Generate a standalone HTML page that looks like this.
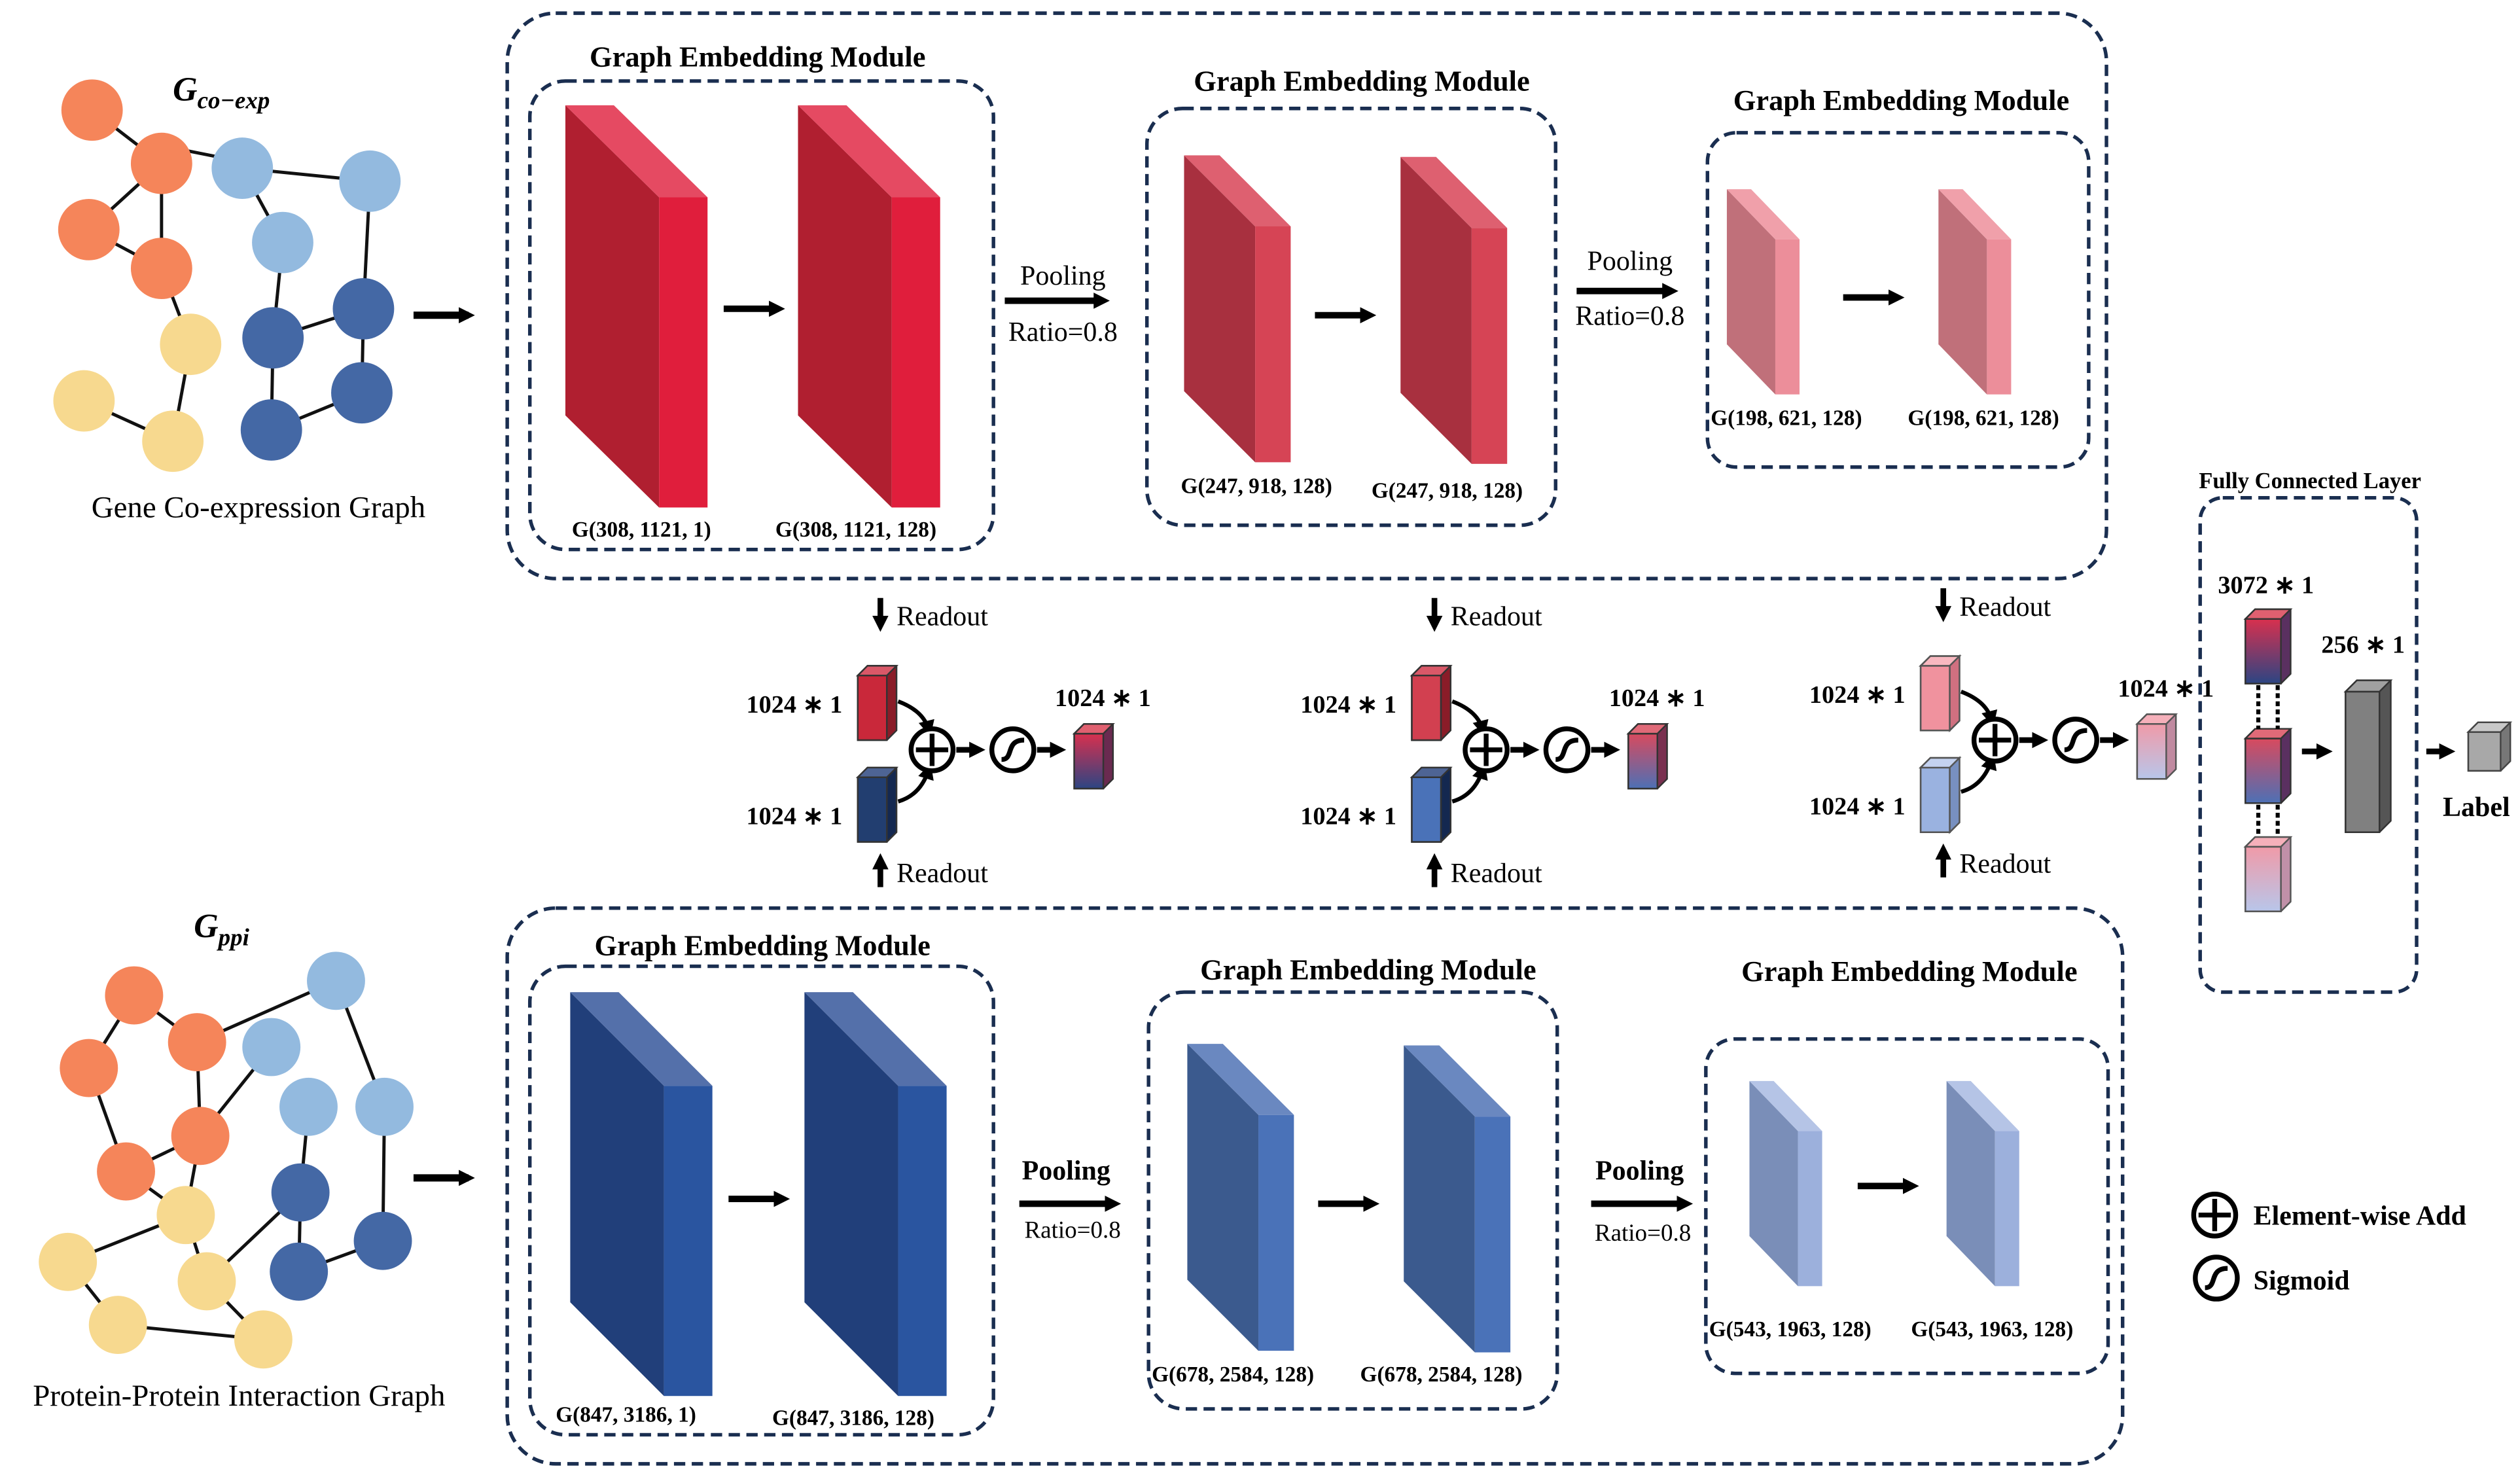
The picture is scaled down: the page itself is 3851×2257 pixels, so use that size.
<!DOCTYPE html>
<html><head><meta charset="utf-8"><style>
html,body{margin:0;padding:0;background:#fff;}
svg{display:block;}
text{font-family:"Liberation Serif",serif;fill:#000;}
.t{font-weight:bold;font-size:18px;text-anchor:middle;}
.g{font-weight:bold;font-size:13.5px;}
.n{font-size:17px;}
.b{font-weight:bold;font-size:15.5px;}
.box{fill:none;stroke:#1a2e50;stroke-width:2.2;stroke-dasharray:7 4;}
.ed line{stroke:#111;stroke-width:2;}
</style></head><body>
<svg width="3851" height="2257" viewBox="0 0 1560 914" xmlns="http://www.w3.org/2000/svg">
<defs>
<marker id="ah" markerWidth="10" markerHeight="10" refX="6" refY="5" orient="auto" markerUnits="userSpaceOnUse"><path d="M0,0 L10,5 L0,10 z" fill="#000"/></marker>
<linearGradient id="gr1" x1="0" y1="0" x2="0" y2="1"><stop offset="0" stop-color="#d8304e"/><stop offset="1" stop-color="#2c4583"/></linearGradient>
<linearGradient id="gr2" x1="0" y1="0" x2="0" y2="1"><stop offset="0" stop-color="#d84a5e"/><stop offset="1" stop-color="#4d70b5"/></linearGradient>
<linearGradient id="gr3" x1="0" y1="0" x2="0" y2="1"><stop offset="0" stop-color="#f09aa8"/><stop offset="1" stop-color="#b8c6ea"/></linearGradient>
</defs>

<g class="ed">
<line x1="57" y1="68" x2="100" y2="101"/><line x1="100" y1="101" x2="55" y2="142"/><line x1="100" y1="101" x2="100" y2="166"/>
<line x1="55" y1="142" x2="100" y2="166"/><line x1="100" y1="90" x2="150" y2="100"/><line x1="150" y1="104" x2="229" y2="112"/>
<line x1="150" y1="104" x2="175" y2="150"/><line x1="229" y1="112" x2="225" y2="191"/><line x1="175" y1="150" x2="169" y2="209"/>
<line x1="169" y1="209" x2="168" y2="266"/><line x1="225" y1="191" x2="224" y2="243"/><line x1="224" y1="243" x2="168" y2="266"/>
<line x1="225" y1="191" x2="169" y2="209"/>
<line x1="100" y1="166" x2="118" y2="213"/><line x1="118" y1="213" x2="107" y2="273"/><line x1="52" y1="248" x2="107" y2="273"/>
</g>
<g>
<circle cx="57" cy="68" r="19" fill="#f5855a"/><circle cx="100" cy="101" r="19" fill="#f5855a"/><circle cx="55" cy="142" r="19" fill="#f5855a"/><circle cx="100" cy="166" r="19" fill="#f5855a"/>
<circle cx="150" cy="104" r="19" fill="#93badf"/><circle cx="229" cy="112" r="19" fill="#93badf"/><circle cx="175" cy="150" r="19" fill="#93badf"/>
<circle cx="225" cy="191" r="19" fill="#4468a5"/><circle cx="169" cy="209" r="19" fill="#4468a5"/><circle cx="224" cy="243" r="19" fill="#4468a5"/><circle cx="168" cy="266" r="19" fill="#4468a5"/>
<circle cx="118" cy="213" r="19" fill="#f7d98f"/><circle cx="52" cy="248" r="19" fill="#f7d98f"/><circle cx="107" cy="273" r="19" fill="#f7d98f"/>
</g>
<text x="107" y="62" font-size="21" font-weight="bold" font-style="italic">G<tspan font-size="15" dy="5">co−exp</tspan></text>
<text x="160" y="320" font-size="19" text-anchor="middle">Gene Co-expression Graph</text>

<g class="ed">
<line x1="83" y1="616" x2="122" y2="645"/><line x1="83" y1="616" x2="55" y2="661"/><line x1="122" y1="645" x2="124" y2="703"/>
<line x1="55" y1="661" x2="78" y2="725"/><line x1="78" y1="725" x2="124" y2="703"/><line x1="124" y1="703" x2="168" y2="648"/>
<line x1="122" y1="645" x2="208" y2="607"/><line x1="208" y1="607" x2="238" y2="685"/><line x1="238" y1="685" x2="237" y2="768"/>
<line x1="191" y1="685" x2="186" y2="738"/><line x1="186" y1="738" x2="185" y2="787"/><line x1="237" y1="768" x2="185" y2="787"/>
<line x1="78" y1="725" x2="115" y2="752"/><line x1="124" y1="703" x2="115" y2="752"/><line x1="115" y1="752" x2="42" y2="781"/>
<line x1="115" y1="752" x2="128" y2="793"/><line x1="42" y1="781" x2="73" y2="820"/><line x1="73" y1="820" x2="163" y2="829"/>
<line x1="128" y1="793" x2="163" y2="829"/><line x1="128" y1="793" x2="186" y2="738"/>
</g>
<g>
<circle cx="83" cy="616" r="18" fill="#f5855a"/><circle cx="122" cy="645" r="18" fill="#f5855a"/><circle cx="55" cy="661" r="18" fill="#f5855a"/><circle cx="124" cy="703" r="18" fill="#f5855a"/><circle cx="78" cy="725" r="18" fill="#f5855a"/>
<circle cx="208" cy="607" r="18" fill="#93badf"/><circle cx="168" cy="648" r="18" fill="#93badf"/><circle cx="191" cy="685" r="18" fill="#93badf"/><circle cx="238" cy="685" r="18" fill="#93badf"/>
<circle cx="186" cy="738" r="18" fill="#4468a5"/><circle cx="237" cy="768" r="18" fill="#4468a5"/><circle cx="185" cy="787" r="18" fill="#4468a5"/>
<circle cx="115" cy="752" r="18" fill="#f7d98f"/><circle cx="42" cy="781" r="18" fill="#f7d98f"/><circle cx="128" cy="793" r="18" fill="#f7d98f"/><circle cx="73" cy="820" r="18" fill="#f7d98f"/><circle cx="163" cy="829" r="18" fill="#f7d98f"/>
</g>
<text x="120" y="580" font-size="21" font-weight="bold" font-style="italic">G<tspan font-size="15" dy="5">ppi</tspan></text>
<text x="148" y="870" font-size="19" text-anchor="middle">Protein-Protein Interaction Graph</text>

<line x1="256" y1="195" x2="290" y2="195" stroke="#000" stroke-width="4.5" marker-end="url(#ah)"/>
<line x1="256" y1="729" x2="290" y2="729" stroke="#000" stroke-width="4.5" marker-end="url(#ah)"/>

<rect class="box" x="314" y="8" width="990" height="350" rx="30"/>
<rect class="box" x="328" y="50" width="287" height="290" rx="22"/>
<rect class="box" x="710" y="67" width="253" height="258" rx="22"/>
<rect class="box" x="1057" y="82" width="236" height="207" rx="18"/>
<rect class="box" x="314" y="562" width="1000" height="344" rx="30"/>
<rect class="box" x="328" y="598" width="287" height="290" rx="22"/>
<rect class="box" x="711" y="614" width="253" height="258" rx="22"/>
<rect class="box" x="1056" y="643" width="249" height="207" rx="18"/>
<rect class="box" x="1362" y="308" width="134" height="306" rx="14"/>

<text class="t" x="469" y="41">Graph Embedding Module</text>
<text class="t" x="843" y="56">Graph Embedding Module</text>
<text class="t" x="1177" y="68">Graph Embedding Module</text>
<text class="t" x="472" y="591">Graph Embedding Module</text>
<text class="t" x="847" y="606">Graph Embedding Module</text>
<text class="t" x="1182" y="607">Graph Embedding Module</text>

<g id="s1">
<polygon points="350,65 408,122 408,314 350,257" fill="#b01f30"/><polygon points="350,65 380,65 438,122 408,122" fill="#e54a62"/><rect x="408" y="122" width="30" height="192" fill="#e01e3c"/>
</g>
<use href="#s1" x="144" y="0"/>
<g id="s2">
<polygon points="733,96 777,140 777,286 733,242" fill="#a8303f"/><polygon points="733,96 755,96 799,140 777,140" fill="#de6070"/><rect x="777" y="140" width="22" height="146" fill="#d64455"/>
</g>
<use href="#s2" x="134" y="1"/>
<g id="s3">
<polygon points="1069,117 1099,148 1099,244 1069,213" fill="#c0707a"/><polygon points="1069,117 1084,117 1114,148 1099,148" fill="#f0a0aa"/><rect x="1099" y="148" width="15" height="96" fill="#ec8e9a"/>
</g>
<use href="#s3" x="131" y="0"/>
<g id="b1">
<polygon points="353,614 411,672 411,864 353,806" fill="#213f7a"/><polygon points="353,614 383,614 441,672 411,672" fill="#5470aa"/><rect x="411" y="672" width="30" height="192" fill="#2a55a0"/>
</g>
<use href="#b1" x="145" y="0"/>
<g id="b2">
<polygon points="735,646 779,690 779,836 735,792" fill="#3b5a8e"/><polygon points="735,646 757,646 801,690 779,690" fill="#6a88c0"/><rect x="779" y="690" width="22" height="146" fill="#4a72b8"/>
</g>
<use href="#b2" x="134" y="1"/>
<g id="b3">
<polygon points="1083,669 1113,700 1113,796 1083,765" fill="#7a8eb8"/><polygon points="1083,669 1098,669 1128,700 1113,700" fill="#b5c4e6"/><rect x="1113" y="700" width="15" height="96" fill="#9cb0dc"/>
</g>
<use href="#b3" x="122" y="0"/>

<g stroke="#000" stroke-width="4" marker-end="url(#ah)">
<line x1="448" y1="191" x2="482" y2="191"/><line x1="814" y1="195" x2="848" y2="195"/><line x1="1141" y1="184" x2="1175" y2="184"/>
<line x1="451" y1="742" x2="485" y2="742"/><line x1="816" y1="745" x2="850" y2="745"/><line x1="1150" y1="734" x2="1184" y2="734"/>
<line x1="622" y1="186" x2="683" y2="186"/><line x1="976" y1="180" x2="1035" y2="180"/>
<line x1="631" y1="745" x2="690" y2="745"/><line x1="985" y1="745" x2="1044" y2="745"/>
</g>
<text class="n" x="658" y="176" text-anchor="middle">Pooling</text><text class="n" x="658" y="211" text-anchor="middle">Ratio=0.8</text>
<text class="n" x="1009" y="167" text-anchor="middle">Pooling</text><text class="n" x="1009" y="201" text-anchor="middle">Ratio=0.8</text>
<text class="n" x="660" y="730" text-anchor="middle" font-weight="bold">Pooling</text><text x="664" y="766" font-size="15" text-anchor="middle">Ratio=0.8</text>
<text class="n" x="1015" y="730" text-anchor="middle" font-weight="bold">Pooling</text><text x="1017" y="768" font-size="15" text-anchor="middle">Ratio=0.8</text>

<text class="g" x="354" y="332">G(308, 1121, 1)</text><text class="g" x="480" y="332">G(308, 1121, 128)</text>
<text class="g" x="731" y="305">G(247, 918, 128)</text><text class="g" x="849" y="308">G(247, 918, 128)</text>
<text class="g" x="1059" y="263">G(198, 621, 128)</text><text class="g" x="1181" y="263">G(198, 621, 128)</text>
<text class="g" x="344" y="880">G(847, 3186, 1)</text><text class="g" x="478" y="882">G(847, 3186, 128)</text>
<text class="g" x="713" y="855">G(678, 2584, 128)</text><text class="g" x="842" y="855">G(678, 2584, 128)</text>
<text class="g" x="1058" y="827">G(543, 1963, 128)</text><text class="g" x="1183" y="827">G(543, 1963, 128)</text>

<g id="fu">
<line x1="545" y1="370" x2="545" y2="387" stroke="#000" stroke-width="3.5" marker-end="url(#ah)"/>
<text class="n" x="555" y="387">Readout</text>
<line x1="545" y1="549" x2="545" y2="532" stroke="#000" stroke-width="3.5" marker-end="url(#ah)"/>
<text class="n" x="555" y="546">Readout</text>
<polygon points="531,418 537,412 555,412 555,452 549,458 531,458" fill="#8a1c28" stroke="#333" stroke-width="1"/>
<rect x="531" y="418" width="18" height="40" fill="#c9283a" stroke="#333" stroke-width="1"/>
<polygon points="531,418 537,412 555,412 549,418" fill="#d95868" stroke="#333" stroke-width="1"/>
<polygon points="531,481 537,475 555,475 555,515 549,521 531,521" fill="#142850" stroke="#333" stroke-width="1"/>
<rect x="531" y="481" width="18" height="40" fill="#223e70" stroke="#333" stroke-width="1"/>
<polygon points="531,481 537,475 555,475 549,481" fill="#4e6494" stroke="#333" stroke-width="1"/>
<path d="M556,434 Q572,440 575,452" fill="none" stroke="#000" stroke-width="2.5" marker-end="url(#ah)"/>
<path d="M556,496 Q570,492 575,476" fill="none" stroke="#000" stroke-width="2.5" marker-end="url(#ah)"/>
<circle cx="577" cy="464" r="13" fill="#fff" stroke="#000" stroke-width="3"/>
<line x1="577" y1="454" x2="577" y2="474" stroke="#000" stroke-width="3"/><line x1="567" y1="464" x2="587" y2="464" stroke="#000" stroke-width="3"/>
<line x1="592" y1="464" x2="606" y2="464" stroke="#000" stroke-width="3.5" marker-end="url(#ah)"/>
<circle cx="627" cy="464" r="13" fill="#fff" stroke="#000" stroke-width="3"/>
<path d="M620,470 C628,470 622,458 634,458" fill="none" stroke="#000" stroke-width="3"/>
<line x1="642" y1="464" x2="656" y2="464" stroke="#000" stroke-width="3.5" marker-end="url(#ah)"/>
<text class="b" x="462" y="441">1024 ∗ 1</text><text class="b" x="462" y="510">1024 ∗ 1</text><text class="b" x="653" y="437">1024 ∗ 1</text>
</g>
<g><polygon points="665,454 671,448 689,448 689,482 683,488 665,488" fill="#6a2a50" stroke="#333"/>
<rect x="665" y="454" width="18" height="34" fill="url(#gr1)" stroke="#333"/><polygon points="665,454 671,448 689,448 683,454" fill="#e06070" stroke="#333"/></g>

<g transform="translate(343,0)"><use href="#fu"/></g>
<g transform="translate(343,0)"><polygon points="665,454 671,448 689,448 689,482 683,488 665,488" fill="#7a3050" stroke="#333"/>
<rect x="665" y="454" width="18" height="34" fill="url(#gr2)" stroke="#333"/><polygon points="665,454 671,448 689,448 683,454" fill="#e06a78" stroke="#333"/></g>
<g>
<rect x="874" y="418" width="18" height="40" fill="#d24050" stroke="#333"/>
<rect x="874" y="481" width="18" height="40" fill="#4a72b8" stroke="#333"/>
</g>
<g transform="translate(658,-6)"><use href="#fu"/></g>
<g>
<rect x="1189" y="412" width="18" height="40" fill="#f0929e" stroke="#555"/>
<polygon points="1189,412 1195,406 1213,406 1207,412" fill="#f8b8c0" stroke="#555"/>
<polygon points="1207,412 1213,406 1213,446 1207,452" fill="#d07080" stroke="#555"/>
<rect x="1189" y="475" width="18" height="40" fill="#9ab2e0" stroke="#555"/>
<polygon points="1189,475 1195,469 1213,469 1207,475" fill="#c4d2f0" stroke="#555"/>
<polygon points="1207,475 1213,469 1213,509 1207,515" fill="#7890c0" stroke="#555"/>
<polygon points="1323,448 1329,442 1347,442 1347,476 1341,482 1323,482" fill="#c08aa0" stroke="#555"/>
<rect x="1323" y="448" width="18" height="34" fill="url(#gr3)" stroke="#555"/><polygon points="1323,448 1329,442 1347,442 1341,448" fill="#f5b0ba" stroke="#555"/>
</g>

<text x="1430" y="302" font-size="14" font-weight="bold" text-anchor="middle">Fully Connected Layer</text>
<text class="b" x="1373" y="367">3072 ∗ 1</text>
<g><polygon points="1390,383 1396,377 1418,377 1418,417 1412,423 1390,423" fill="#5a3060" stroke="#333"/>
<rect x="1390" y="383" width="22" height="40" fill="url(#gr1)" stroke="#333"/><polygon points="1390,383 1396,377 1418,377 1412,383" fill="#e06070" stroke="#333"/></g>
<polygon points="1390,457 1396,451 1418,451 1418,491 1412,497 1390,497" fill="#5a3060" stroke="#333"/>
<rect x="1390" y="457" width="22" height="40" fill="url(#gr2)" stroke="#333"/><polygon points="1390,457 1396,451 1418,451 1412,457" fill="#e06a78" stroke="#333"/>
<polygon points="1390,524 1396,518 1418,518 1418,558 1412,564 1390,564" fill="#c090a8" stroke="#555"/>
<rect x="1390" y="524" width="22" height="40" fill="url(#gr3)" stroke="#555"/><polygon points="1390,524 1396,518 1418,518 1412,524" fill="#f5b0ba" stroke="#555"/>
<g stroke="#000" stroke-width="2.5" stroke-dasharray="3 2">
<line x1="1398" y1="424" x2="1398" y2="451"/><line x1="1410" y1="424" x2="1410" y2="451"/>
<line x1="1398" y1="498" x2="1398" y2="518"/><line x1="1410" y1="498" x2="1410" y2="518"/>
</g>
<line x1="1425" y1="465" x2="1440" y2="465" stroke="#000" stroke-width="3.5" marker-end="url(#ah)"/>
<text class="b" x="1437" y="404">256 ∗ 1</text>
<polygon points="1452,428 1459,421 1480,421 1480,508 1473,515 1452,515" fill="#555" stroke="#333"/>
<rect x="1452" y="428" width="21" height="87" fill="#808080" stroke="#333"/>
<polygon points="1452,428 1459,421 1480,421 1473,428" fill="#a0a0a0" stroke="#333"/>
<line x1="1502" y1="465" x2="1516" y2="465" stroke="#000" stroke-width="3.5" marker-end="url(#ah)"/>
<polygon points="1528,453 1534,447 1554,447 1554,471 1548,477 1528,477" fill="#777" stroke="#444"/>
<rect x="1528" y="453" width="20" height="24" fill="#a8a8a8" stroke="#444"/>
<polygon points="1528,453 1534,447 1554,447 1548,453" fill="#c8c8c8" stroke="#444"/>
<text x="1533" y="505" font-size="17" font-weight="bold" text-anchor="middle">Label</text>

<circle cx="1371" cy="752" r="13" fill="#fff" stroke="#000" stroke-width="3"/>
<line x1="1371" y1="742" x2="1371" y2="762" stroke="#000" stroke-width="3"/><line x1="1361" y1="752" x2="1381" y2="752" stroke="#000" stroke-width="3"/>
<text x="1395" y="758" font-size="17" font-weight="bold">Element-wise Add</text>
<circle cx="1372" cy="791" r="13" fill="#fff" stroke="#000" stroke-width="3"/>
<path d="M1365,797 C1373,797 1367,785 1379,785" fill="none" stroke="#000" stroke-width="3"/>
<text x="1395" y="798" font-size="17" font-weight="bold">Sigmoid</text>
</svg>
</body></html>
